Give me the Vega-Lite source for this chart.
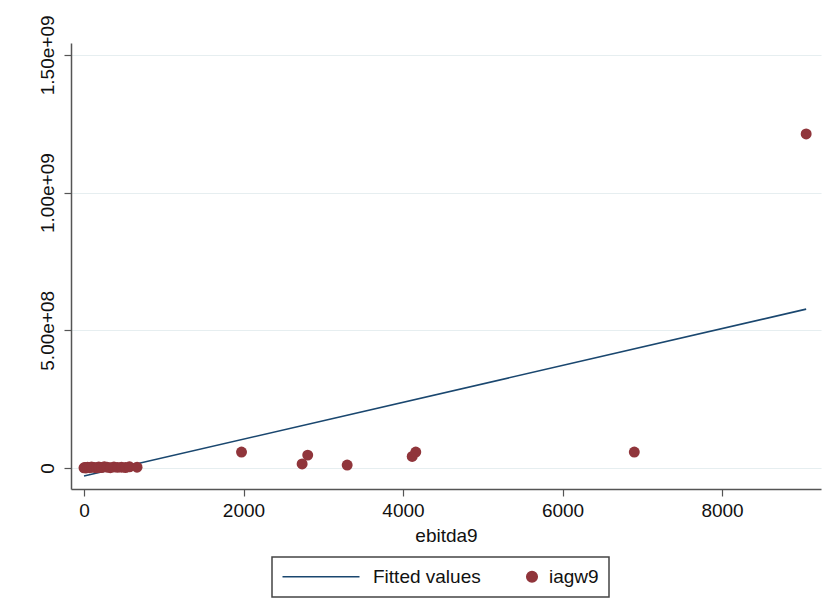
{
  "$schema": "https://vega.github.io/schema/vega-lite/v6.json",
  "width": 750,
  "height": 446,
  "autosize": {"type": "none"},
  "padding": {"left": 71, "top": 43, "right": 5, "bottom": 125},
  "background": "white",
  "config": {
    "view": {"stroke": null},
    "font": "Liberation Sans",
    "axis": {
      "labelFont": "Liberation Sans",
      "titleFont": "Liberation Sans",
      "labelFontSize": 19,
      "titleFontSize": 19,
      "titleFontWeight": "normal",
      "labelColor": "#111111",
      "titleColor": "#111111",
      "domainColor": "#555555",
      "tickColor": "#555555",
      "tickSize": 7,
      "domainWidth": 1.5,
      "tickWidth": 1.2
    }
  },
  "datasets": {
    "fit": [
      {"ebitda9": 0, "value": -29000000, "series": "Fitted values"},
      {"ebitda9": 9055, "value": 577000000, "series": "Fitted values"}
    ],
    "pts": [
      {"ebitda9": 0, "value": 1000000, "series": "iagw9"},
      {"ebitda9": 12, "value": 2000000, "series": "iagw9"},
      {"ebitda9": 25, "value": 500000, "series": "iagw9"},
      {"ebitda9": 45, "value": 3000000, "series": "iagw9"},
      {"ebitda9": 70, "value": 1500000, "series": "iagw9"},
      {"ebitda9": 95, "value": 4000000, "series": "iagw9"},
      {"ebitda9": 125, "value": 2500000, "series": "iagw9"},
      {"ebitda9": 155, "value": 1000000, "series": "iagw9"},
      {"ebitda9": 185, "value": 3500000, "series": "iagw9"},
      {"ebitda9": 220, "value": 2000000, "series": "iagw9"},
      {"ebitda9": 255, "value": 5000000, "series": "iagw9"},
      {"ebitda9": 290, "value": 3000000, "series": "iagw9"},
      {"ebitda9": 330, "value": 1500000, "series": "iagw9"},
      {"ebitda9": 375, "value": 4000000, "series": "iagw9"},
      {"ebitda9": 420, "value": 2500000, "series": "iagw9"},
      {"ebitda9": 470, "value": 3000000, "series": "iagw9"},
      {"ebitda9": 520, "value": 2000000, "series": "iagw9"},
      {"ebitda9": 570, "value": 4500000, "series": "iagw9"},
      {"ebitda9": 665, "value": 3000000, "series": "iagw9"},
      {"ebitda9": 1975, "value": 58000000, "series": "iagw9"},
      {"ebitda9": 2735, "value": 15000000, "series": "iagw9"},
      {"ebitda9": 2805, "value": 47000000, "series": "iagw9"},
      {"ebitda9": 3300, "value": 11000000, "series": "iagw9"},
      {"ebitda9": 4115, "value": 42000000, "series": "iagw9"},
      {"ebitda9": 4160, "value": 58000000, "series": "iagw9"},
      {"ebitda9": 6900, "value": 58000000, "series": "iagw9"},
      {"ebitda9": 9055, "value": 1213000000, "series": "iagw9"}
    ]
  },
  "encoding": {
    "x": {
      "field": "ebitda9",
      "type": "quantitative",
      "title": "ebitda9",
      "scale": {"domain": [-163, 9241], "nice": false, "zero": false},
      "axis": {"values": [0, 2000, 4000, 6000, 8000], "grid": false, "format": "d", "labelPadding": 5, "titlePadding": 6}
    },
    "y": {
      "field": "value",
      "type": "quantitative",
      "title": null,
      "scale": {"domain": [-76000000, 1543000000], "nice": false, "zero": false},
      "axis": {
        "values": [0, 500000000, 1000000000, 1500000000],
        "labelExpr": "datum.value == 0 ? '0' : replace(format(datum.value, '.2e'), 'e+', 'e+0')",
        "labelAngle": -90,
        "labelAlign": "center",
        "labelBaseline": "bottom",
        "labelPadding": 7,
        "grid": true,
        "gridColor": "#e6eef0",
        "gridWidth": 1.2
      }
    },
    "color": {
      "field": "series",
      "type": "nominal",
      "title": null,
      "scale": {"domain": ["Fitted values", "iagw9"], "range": ["#1a476f", "#90353b"]},
      "legend": {
        "orient": "none",
        "legendX": 201,
        "legendY": 514,
        "direction": "horizontal",
        "title": null,
        "labelFont": "Liberation Sans",
        "labelFontSize": 19,
        "labelColor": "#111111",
        "strokeColor": "#444444",
        "padding": 10,
        "columnPadding": 42,
        "labelOffset": 4,
        "symbolSize": 100,
        "encode": {
          "legend": {"update": {"strokeWidth": {"value": 1.5}}},
          "symbols": {
            "update": {
              "stroke": {"scale": "color", "field": "value"},
              "strokeWidth": {"value": 1.6},
              "opacity": {"value": 1},
              "size": {"signal": "datum.value === 'Fitted values' ? 5929 : 110"},
              "x": {"signal": "datum.value === 'Fitted values' ? 39 : 6"}
            }
          },
          "labels": {
            "update": {
              "dx": {"signal": "datum.value === 'Fitted values' ? 68 : 0"}
            }
          }
        }
      }
    }
  },
  "layer": [
    {
      "data": {"name": "fit"},
      "mark": {"type": "line", "strokeWidth": 1.6}
    },
    {
      "data": {"name": "pts"},
      "mark": {"type": "point", "filled": true, "size": 120, "opacity": 1},
      "encoding": {
        "shape": {
          "field": "series",
          "type": "nominal",
          "title": null,
          "scale": {"domain": ["Fitted values", "iagw9"], "range": ["stroke", "circle"]}
        }
      }
    }
  ]
}
